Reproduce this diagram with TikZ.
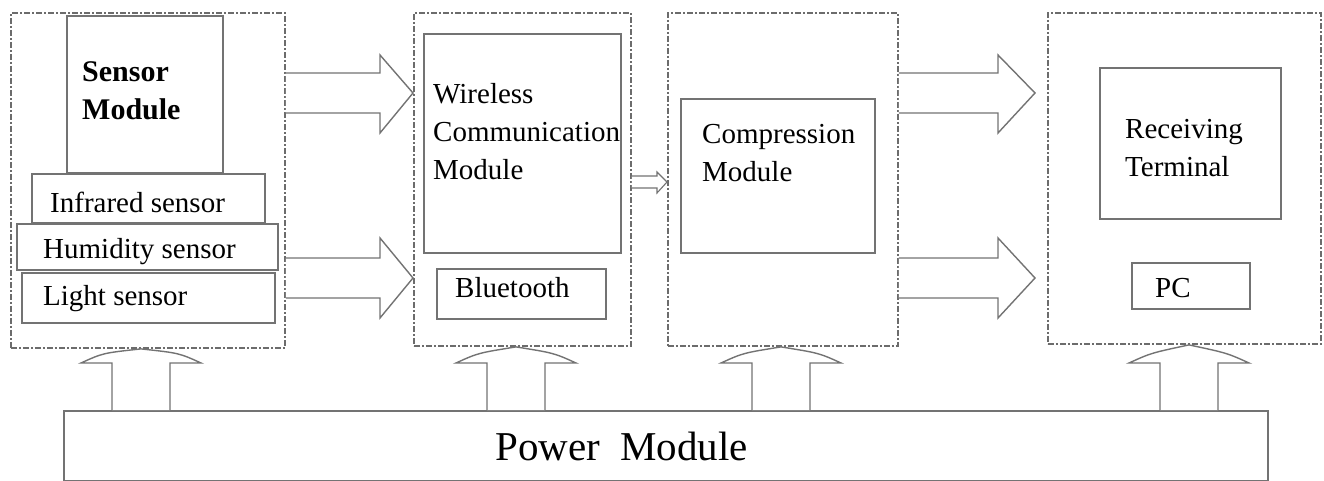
\documentclass[tikz,border=0pt]{standalone}
\usepackage{fontspec}
\setmainfont{Liberation Serif}
\begin{document}
\begin{tikzpicture}[x=1pt,y=-1pt,
  outer/.style={draw=gray!85!black, line width=1.9pt, dash pattern=on 6pt off 2pt on 2pt off 2pt, inner sep=0pt, anchor=north west},
  inner/.style={draw=gray!90!black, line width=1.6pt, fill=white, inner sep=0pt, anchor=north west},
  lbl/.style={anchor=base west, inner sep=0pt, font=\fontsize{29}{38.5}\selectfont, align=left},
  blk/.style={draw=gray!90!black, line width=1.4pt, fill=white, line join=miter},
]
\useasboundingbox (0,0) rectangle (1324,481);

% outer dashed groups
\node[outer, minimum width=274, minimum height=335] (sens) at (10,12) {};
\node[outer, minimum width=217, minimum height=333] (wire) at (413,12) {};
\node[outer, minimum width=230, minimum height=333] (comp) at (667,12) {};
\node[outer, minimum width=273, minimum height=331] (recv) at (1047,12) {};

% inner boxes
\node[inner, minimum width=156, minimum height=157] (sm)  at (66,15) {};
\node[inner, minimum width=233, minimum height=49]  (ir)  at (31,173) {};
\node[inner, minimum width=253, minimum height=50]  (lt)  at (21,272) {};
\node[inner, minimum width=261, minimum height=46]  (hum) at (16,223) {};
\node[inner, minimum width=197, minimum height=219] (wcm) at (423,33) {};
\node[inner, minimum width=169, minimum height=50]  (bt)  at (436,268) {};
\node[inner, minimum width=194, minimum height=154] (cm)  at (680,98) {};
\node[inner, minimum width=181, minimum height=151] (rt)  at (1099,67) {};
\node[inner, minimum width=118, minimum height=46]  (pc)  at (1131,262) {};
\node[inner, minimum width=1204, minimum height=70] (pow) at (63,410) {};

% labels (base anchor = baseline of last line)
\node[lbl, font=\bfseries\fontsize{30}{38}\selectfont] (smT) at (82,120) {Sensor\\Module};
\node[lbl] (irT)  at (50,212) {Infrared sensor};
\node[lbl] (humT) at (43,258) {Humidity sensor};
\node[lbl] (ltT)  at (43,305) {Light sensor};
\node[lbl] (wcmT) at (433,180) {Wireless\\Communication\\Module};
\node[lbl] (btT)  at (455,297) {Bluetooth};
\node[lbl] (cmT)  at (702,182) {Compression\\Module};
\node[lbl] (rtT)  at (1125,177) {Receiving\\Terminal};
\node[lbl] (pcT)  at (1155,297) {PC};
\node[anchor=base west, inner sep=0pt, font=\fontsize{41}{48}\selectfont] (powT) at (495,460) {Power\hspace{10pt} Module};

% right block arrows: sensor -> wireless
\draw[blk] (sens.east |- 0,73) -- (380,73) -- (380,55) -- (wire.west |- 0,93) -- (380,133) -- (380,113) -- (sens.east |- 0,113);
\draw[blk] (sens.east |- 0,258) -- (380,258) -- (380,238) -- (wire.west |- 0,278) -- (380,318) -- (380,298) -- (sens.east |- 0,298);
% compression -> receiving
\coordinate (rtip1) at (1035,93);
\coordinate (rtip2) at (1035,278);
\draw[blk] (comp.east |- 0,73) -- (998,73) -- (998,55) -- (rtip1) -- (998,133) -- (998,113) -- (comp.east |- 0,113);
\draw[blk] (comp.east |- 0,258) -- (998,258) -- (998,238) -- (rtip2) -- (998,318) -- (998,298) -- (comp.east |- 0,298);
% wireless -> compression (small)
\draw[blk, line width=1.1pt] (wire.east |- 0,176) -- (657,176) -- (657,172) -- (comp.west |- 0,182) -- (657,193) -- (657,188) -- (wire.east |- 0,188);

% up block arrows from power module
\foreach \cx/\tg in {141/sens,516/wire,781/comp,1189/recv}{
  \pgfmathsetmacro\xa{\cx-29}
  \pgfmathsetmacro\xb{\cx+29}
  \pgfmathsetmacro\xc{\cx-60}
  \pgfmathsetmacro\xd{\cx+60}
  \pgfmathsetmacro\xe{\cx-38}
  \pgfmathsetmacro\xf{\cx+38}
  \draw[blk] (pow.north -| \xa,0) -- (\xa,363) -- (\xc,363)
     .. controls (\xe,353) .. (\tg.south -| \cx,0)
     .. controls (\xf,353) .. (\xd,363) -- (\xb,363) -- (pow.north -| \xb,0);
}
\end{tikzpicture}
\end{document}
